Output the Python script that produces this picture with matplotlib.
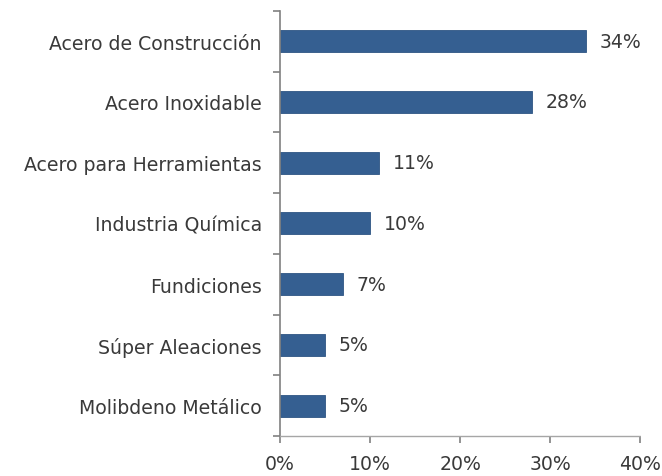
import numpy as np
import matplotlib.pyplot as plt
from matplotlib.ticker import FixedLocator

categories = ["Acero de Construcción", "Acero Inoxidable", "Acero para Herramientas",
              "Industria Química", "Fundiciones", "Súper Aleaciones", "Molibdeno Metálico"]
values = [34, 28, 11, 10, 7, 5, 5]
xticks = [0, 10, 20, 30, 40]

plt.rcParams['font.family'] = ['DejaVu Sans']
text_color = "#3A3A3A"
fs = 13.6

fig = plt.figure(figsize=(6.62, 4.77), dpi=100)
ax = fig.add_axes([0.423, 0.084, 0.544, 0.891])

n = len(categories)
y = np.arange(n)[::-1]
ax.barh(y, values, height=0.36, color="#355F91", edgecolor="#2E5584", linewidth=0.6)
for yi, v in zip(y, values):
    ax.annotate(f"{v}%", (v, yi), xytext=(10, 0), textcoords="offset points",
                va="center", ha="left", fontsize=fs, color=text_color)

ax.set_xlim(0, 40)
ax.set_ylim(-0.5, n - 0.5)
ax.set_xticks(xticks)
ax.set_xticklabels([f"{t}%" for t in xticks], fontsize=fs, color=text_color)
ax.set_yticks(y)
ax.set_yticklabels(categories, fontsize=fs, color=text_color)
ax.yaxis.set_minor_locator(FixedLocator(np.arange(n + 1) - 0.5))
ax.tick_params(axis='y', which='major', length=0, pad=13)
ax.tick_params(axis='y', which='minor', length=5, width=1.2, color="#808080")
ax.tick_params(axis='x', length=5, width=1.2, color="#808080", pad=8, direction='out')

for s in ["top", "right"]:
    ax.spines[s].set_visible(False)
ax.spines["left"].set_color("#808080")
ax.spines["left"].set_linewidth(1.2)
ax.spines["bottom"].set_color("#A6A6A6")
ax.spines["bottom"].set_linewidth(1.0)
ax.spines["bottom"].set_linestyle((0, (1, 1)))

fig.savefig("out.png", dpi=100)
